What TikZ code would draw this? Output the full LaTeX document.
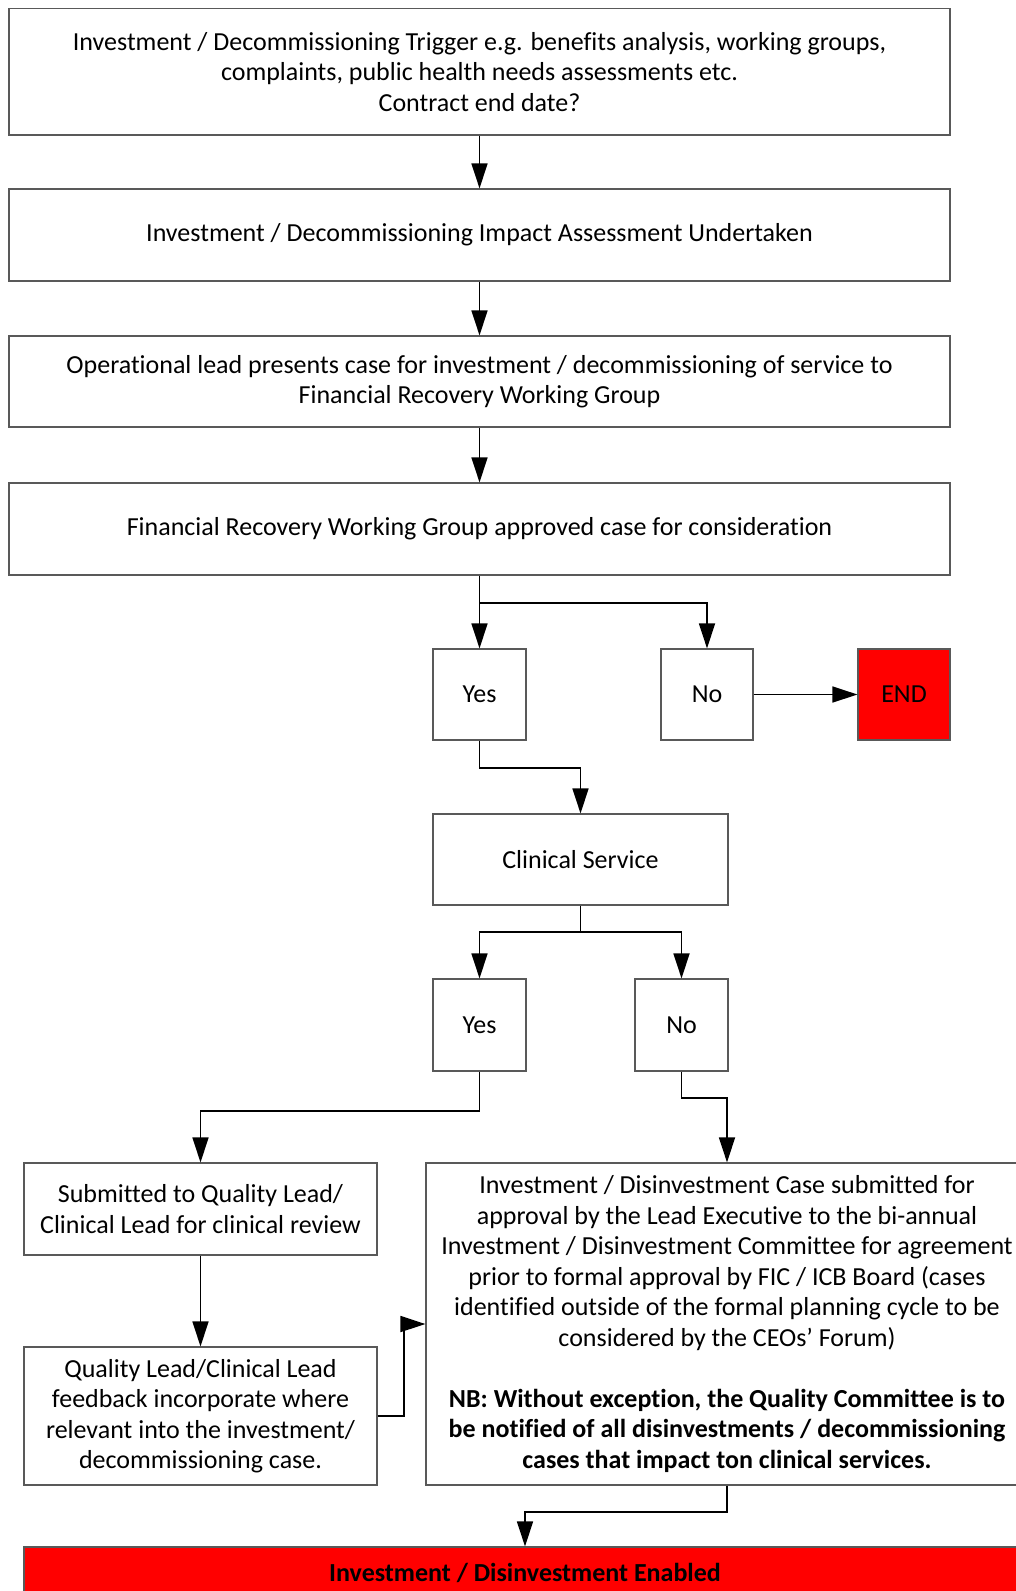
\documentclass[tikz,border=0pt]{standalone}
\usepackage{fontspec}
\setmainfont{Carlito}[Ligatures=NoCommon]
\usetikzlibrary{arrows.meta}
\begin{document}
\begin{tikzpicture}[x=0.75pt,y=-0.75pt,
  box/.style={draw=black!65,line width=0.9pt,fill=white,align=center,inner sep=0pt,
    font=\fontsize{19.5pt}{22.9pt}\selectfont},
  redbox/.style={box,fill=red},
  arr/.style={line width=1.3pt,-{Triangle[length=18.75pt,width=12pt]}},
  ln/.style={line width=1.3pt}]
\useasboundingbox (0,0) rectangle (1016,1591);
\clip (0,0) rectangle (1016,1591);
\fill[white] (0,0) rectangle (1016,1591);
\node[box,minimum width=705.75pt,minimum height=94.9pt] (b1) at (479.5,71.75)
  {Investment / Decommissioning Trigger e.g. benefits analysis, working groups,\\complaints, public health needs assessments etc.\\Contract end date?};
\node[box,minimum width=705.75pt,minimum height=69pt] (b2) at (479.5,235)
  {Investment / Decommissioning Impact Assessment Undertaken};
\node[box,minimum width=705.75pt,minimum height=68.25pt] (b3) at (479.5,381.5)
  {Operational lead presents case for investment / decommissioning of service to\\Financial Recovery Working Group};
\node[box,minimum width=705.75pt,minimum height=69pt] (b4) at (479.5,529)
  {Financial Recovery Working Group approved case for consideration};
\node[box,minimum width=69.75pt,minimum height=68.25pt] (yes1) at (479.5,694.5) {Yes};
\node[box,minimum width=69pt,minimum height=68.25pt] (no1) at (707,694.5) {No};
\node[redbox,minimum width=69pt,minimum height=68.25pt] (end) at (904,694.5) {END};
\node[box,minimum width=221.25pt,minimum height=68.25pt] (cs) at (580.5,859.5) {Clinical Service};
\node[box,minimum width=69.75pt,minimum height=69pt] (yes2) at (479.5,1025) {Yes};
\node[box,minimum width=69.75pt,minimum height=69pt] (no2) at (681.5,1025) {No};
\node[box,minimum width=264.75pt,minimum height=69pt] (sub) at (200.5,1209)
  {Submitted to Quality Lead/\\Clinical Lead for clinical review};
\node[box,minimum width=264.75pt,minimum height=103.5pt] (qual) at (200.5,1416)
  {Quality Lead/Clinical Lead\\feedback incorporate where\\relevant into the investment/\\decommissioning case.};
\node[box,minimum width=451.5pt,minimum height=241.5pt] (big) at (727,1324)
  {Investment / Disinvestment Case submitted for\\approval by the Lead Executive to the bi-annual\\Investment / Disinvestment Committee for agreement\\prior to formal approval by FIC / ICB Board (cases\\identified outside of the formal planning cycle to be\\considered by the CEOs’ Forum)\\[22.9pt]
  \textbf{NB: Without exception, the Quality Committee is to}\\\textbf{be notified of all disinvestments / decommissioning}\\\textbf{cases that impact ton clinical services.}};
\node[redbox,minimum width=751.5pt,minimum height=39pt] (en) at (525,1573)
  {\textbf{Investment / Disinvestment Enabled}};
\coordinate (j1) at (479.5,603);
\coordinate (j2) at (580.5,768);
\coordinate (j3) at (580.5,932);
\coordinate (j4) at (200.5,1111);
\coordinate (j5) at (727,1098);
\coordinate (j6) at (404,1416);
\coordinate (j7) at (525,1512);
\draw[arr] (b1) -- (b2);
\draw[arr] (b2) -- (b3);
\draw[arr] (b3) -- (b4);
\draw[arr] (b4.south) -- (yes1.north);
\draw[arr] (j1) -| (no1.north);
\draw[arr] (no1) -- (end);
\draw[arr] (yes1.south) |- (j2) -- (cs.north);
\draw[ln] (cs.south) -- (j3);
\draw[arr] (j3) -| (yes2.north);
\draw[arr] (j3) -| (no2.north);
\draw[arr] (yes2.south) |- (j4) -- (sub.north);
\draw[arr] (no2.south) |- (j5) -- (big.north);
\draw[arr] (sub) -- (qual);
\draw[arr] (qual.east) -- (j6) |- (big.west);
\draw[arr] (big.south) |- (j7) -- (en.north);
\end{tikzpicture}
\end{document}
